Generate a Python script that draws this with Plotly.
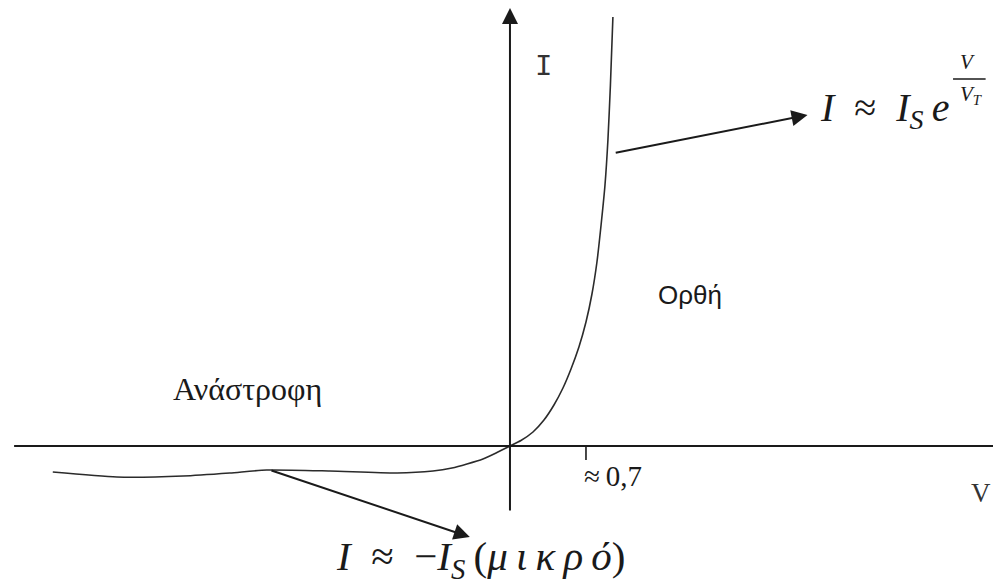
import plotly.graph_objects as go

# Diode I-V characteristic (sketch units: V in volts, I in arbitrary mA-like units)
v_reverse = [-4.21, -3.62, -3.01, -2.58, -2.24, -1.66, -1.04, -0.709, -0.534, -0.396, -0.249, -0.120, 0.0]
i_reverse = [-2.6, -3.1, -3.0, -2.7, -2.4, -2.5, -2.7, -2.5, -2.2, -1.8, -1.3, -0.65, 0.0]

v_forward = [0.0, 0.101, 0.212, 0.313, 0.405, 0.488, 0.562, 0.635, 0.700,
             0.755, 0.801, 0.838, 0.875, 0.902, 0.925, 0.948]
i_forward = [0.0, 0.55, 1.4, 2.6, 4.1, 5.8, 7.7, 9.9, 12.4,
             15.2, 18.4, 22.0, 26.1, 30.6, 36.1, 42.9]

knee_voltage = 0.7
knee_label = "≈\u2009" + "0,7"
forward_label = "Ορθή"
reverse_label = "Ανάστροφη"
axis_v_label = "V"
axis_i_label = "I"

X_RANGE = [-4.696, 4.448]
Y_RANGE = [-14.1, 44.6]

INK = "#1a1a1a"
CURVE = "#2b2b2b"
NB = "\u00a0"
THIN = "\u2009"

fig = go.Figure()

fig.add_trace(go.Scatter(
    x=v_reverse + v_forward[1:],
    y=i_reverse + i_forward[1:],
    mode="lines",
    line=dict(color=CURVE, width=1.6, shape="spline", smoothing=0.6),
    hoverinfo="skip",
    showlegend=False,
))

annotations = []


def arrow(x0, y0, x1, y1, width=2.0, size=1.6):
    annotations.append(dict(
        x=x1, y=y1, ax=x0, ay=y0,
        xref="x", yref="y", axref="x", ayref="y",
        text="", showarrow=True,
        arrowhead=2, arrowsize=size, arrowwidth=width, arrowcolor=INK,
        standoff=0, startstandoff=0,
    ))


# axes with arrowheads
arrow(-4.58, 0.0, 4.63, 0.0)
arrow(0.0, -6.6, 0.0, 43.8)

# callout arrows
arrow(0.96, 29.3, 2.74, 33.1)
arrow(-2.21, -2.4, -0.37, -9.1)


def text(x, y, s, size, family, color=INK, xanchor="center", yanchor="middle"):
    annotations.append(dict(
        x=x, y=y, xref="x", yref="y", text=s, showarrow=False,
        xanchor=xanchor, yanchor=yanchor,
        font=dict(size=size, family=family, color=color),
    ))


text(0.31, 37.9, axis_i_label, 29, "Liberation Mono", color="#333333")
text(4.335, -4.7, axis_v_label, 27, "Liberation Serif", color="#333333")
text(0.95, -3.0, knee_label, 29, "Liberation Serif")
text(1.66, 15.1, forward_label, 26, "Liberation Sans")
text(-2.42, 5.7, reverse_label, 32, "Liberation Serif")

# forward-bias formula I ≈ I_S e^(V/V_T)
fwd_formula = ("<i>I</i>" + NB * 2 + "≈" + NB * 2 +
               "<i>I</i><sub><i>S</i></sub>" + THIN + "<i>e</i>")
text(2.84, 33.6, fwd_formula, 40, "Liberation Serif", xanchor="left")
text(4.21, 38.4, "<i>V</i>", 21, "Liberation Serif")
text(4.25, 35.1, "<i>V</i><sub><i>T</i></sub>", 21, "Liberation Serif")

# reverse-bias formula I ≈ -I_S(μικρό)
greek = THIN.join("μικρό")
rev_formula = ("<i>I</i>" + NB * 2 + "≈" + NB * 2 + "−<i>I</i><sub><i>S</i></sub>" +
               THIN + "(<i>" + greek + "</i>)")
text(-1.62, -11.3, rev_formula, 41, "Liberation Serif", xanchor="left")

shapes = [
    # tick at the knee voltage
    dict(type="line", xref="x", yref="y", x0=knee_voltage, x1=knee_voltage,
         y0=0.0, y1=-1.4, line=dict(color=INK, width=1.6)),
    # fraction bar of the exponent
    dict(type="line", xref="x", yref="y", x0=4.08, x1=4.38,
         y0=36.7, y1=36.7, line=dict(color=INK, width=1.6)),
]

fig.update_layout(
    width=993, height=587,
    margin=dict(l=0, r=0, t=0, b=0),
    paper_bgcolor="white", plot_bgcolor="white",
    xaxis=dict(range=X_RANGE, visible=False, fixedrange=True),
    yaxis=dict(range=Y_RANGE, visible=False, fixedrange=True),
    annotations=annotations,
    shapes=shapes,
    showlegend=False,
)

fig.write_html("out.html", config={"displayModeBar": False})
